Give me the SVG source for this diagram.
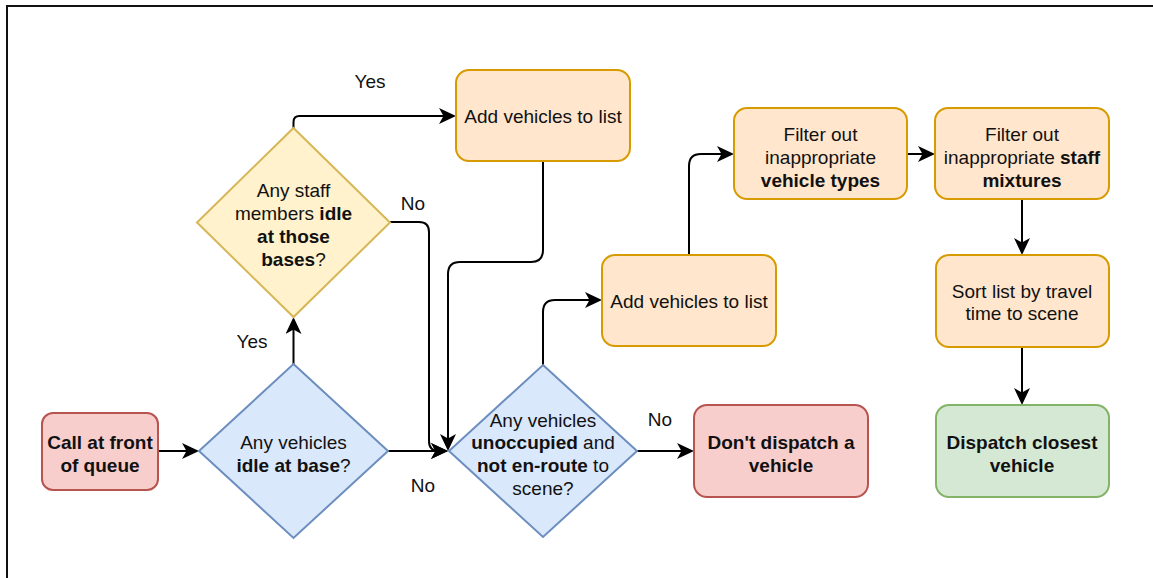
<svg xmlns="http://www.w3.org/2000/svg" width="1153" height="578" viewBox="0 0 1153 578">
  <style>
    text { font-family: "Liberation Sans", Arial, sans-serif; font-size: 19px; fill: #111; text-anchor: middle; }
    .b { font-weight: bold; }
    .node { stroke-width: 2; }
    .orange { fill: #ffe6cc; stroke: #d79b00; }
    .blue { fill: #dae8fc; stroke: #6c8ebf; }
    .yellow { fill: #fff2cc; stroke: #d6b656; }
    .red { fill: #f8cecc; stroke: #b85450; }
    .green { fill: #d5e8d4; stroke: #82b366; }
    .edge { fill: none; stroke: #000; stroke-width: 2; marker-end: url(#arrow); }
  </style>
  <defs>
    <marker id="arrow" viewBox="0 0 17 16" refX="13" refY="8" markerWidth="17" markerHeight="16" markerUnits="userSpaceOnUse" orient="auto">
      <path d="M0,0 L17,8 L0,16 L4.5,8 Z" fill="#000"/>
    </marker>
  </defs>
  <rect width="1153" height="578" fill="#fff"/>
  <!-- outer frame -->
  <rect x="7" y="6" width="1200" height="620" fill="none" stroke="#111" stroke-width="2"/>

  <g id="connectors">
    <path class="edge" d="M158,451 H195" stroke-width="3"/>
    <path class="edge" d="M293.5,364 V321"/>
    <path class="edge" d="M293.5,128 V122 Q293.5,116 299.5,116 H452"/>
    <path class="edge" d="M390,222 H419 Q429,222 429,232 V441 Q429,451 439,451 H444"/>
    <path class="edge" d="M388,451 H444"/>
    <path class="edge" d="M543,161 V250 Q543,262 531,262 H460 Q448,262 448,274 V447"/>
    <path class="edge" d="M543,365 V312 Q543,300 555,300 H598"/>
    <path class="edge" d="M689,255 V166 Q689,154 701,154 H730"/>
    <path class="edge" d="M907,154 H931"/>
    <path class="edge" d="M1022,199 V251"/>
    <path class="edge" d="M1022,347 V401"/>
    <path class="edge" d="M637,451 H690"/>
    <text x="370" y="88">Yes</text>
    <text x="413" y="210">No</text>
    <text x="252" y="348">Yes</text>
    <text x="423" y="492">No</text>
    <text x="660" y="426">No</text>
  </g>

  <g id="call">
    <rect class="node red" x="42" y="413" width="116" height="77" rx="11"/>
    <text class="b" x="100" y="449">Call at front</text>
    <text class="b" x="100" y="472">of queue</text>
  </g>

  <g id="idle-at-base">
    <polygon class="node blue" points="293.5,364 388,451 293.5,538 199,451"/>
    <text x="293.5" y="449">Any vehicles</text>
    <text x="293.5" y="472"><tspan class="b">idle at base</tspan>?</text>
  </g>

  <g id="staff-idle">
    <polygon class="node yellow" points="293.5,128 390,222.5 293.5,317 197,222.5"/>
    <text x="293.5" y="197">Any staff</text>
    <text x="293.5" y="220">members <tspan class="b">idle</tspan></text>
    <text class="b" x="293.5" y="243">at those</text>
    <text x="293.5" y="266"><tspan class="b">bases</tspan>?</text>
  </g>

  <g id="add-list-1">
    <rect class="node orange" x="456" y="70" width="174" height="91" rx="13"/>
    <text x="543" y="123">Add vehicles to list</text>
  </g>

  <g id="unoccupied">
    <polygon class="node blue" points="543,365 637,451 543,537 449,451"/>
    <text x="543" y="427">Any vehicles</text>
    <text x="543" y="449"><tspan class="b">unoccupied</tspan> and</text>
    <text x="543" y="472"><tspan class="b">not en-route</tspan> to</text>
    <text x="543" y="495">scene?</text>
  </g>

  <g id="add-list-2">
    <rect class="node orange" x="602" y="255" width="174" height="91" rx="13"/>
    <text x="689" y="308">Add vehicles to list</text>
  </g>

  <g id="filter-types">
    <rect class="node orange" x="734" y="108" width="173" height="91" rx="13"/>
    <text x="820.5" y="141">Filter out</text>
    <text x="820.5" y="164">inappropriate</text>
    <text class="b" x="820.5" y="187">vehicle types</text>
  </g>

  <g id="filter-staff">
    <rect class="node orange" x="935" y="108" width="174" height="91" rx="13"/>
    <text x="1022" y="141">Filter out</text>
    <text x="1022" y="164">inappropriate <tspan class="b">staff</tspan></text>
    <text class="b" x="1022" y="187">mixtures</text>
  </g>

  <g id="sort-list">
    <rect class="node orange" x="936" y="255" width="173" height="92" rx="13"/>
    <text x="1022" y="298">Sort list by travel</text>
    <text x="1022" y="320">time to scene</text>
  </g>

  <g id="no-dispatch">
    <rect class="node red" x="694" y="405" width="174" height="92" rx="13"/>
    <text class="b" x="781" y="449">Don't dispatch a</text>
    <text class="b" x="781" y="472">vehicle</text>
  </g>

  <g id="dispatch">
    <rect class="node green" x="936" y="405" width="173" height="92" rx="13"/>
    <text class="b" x="1022" y="449">Dispatch closest</text>
    <text class="b" x="1022" y="472">vehicle</text>
  </g>
</svg>
